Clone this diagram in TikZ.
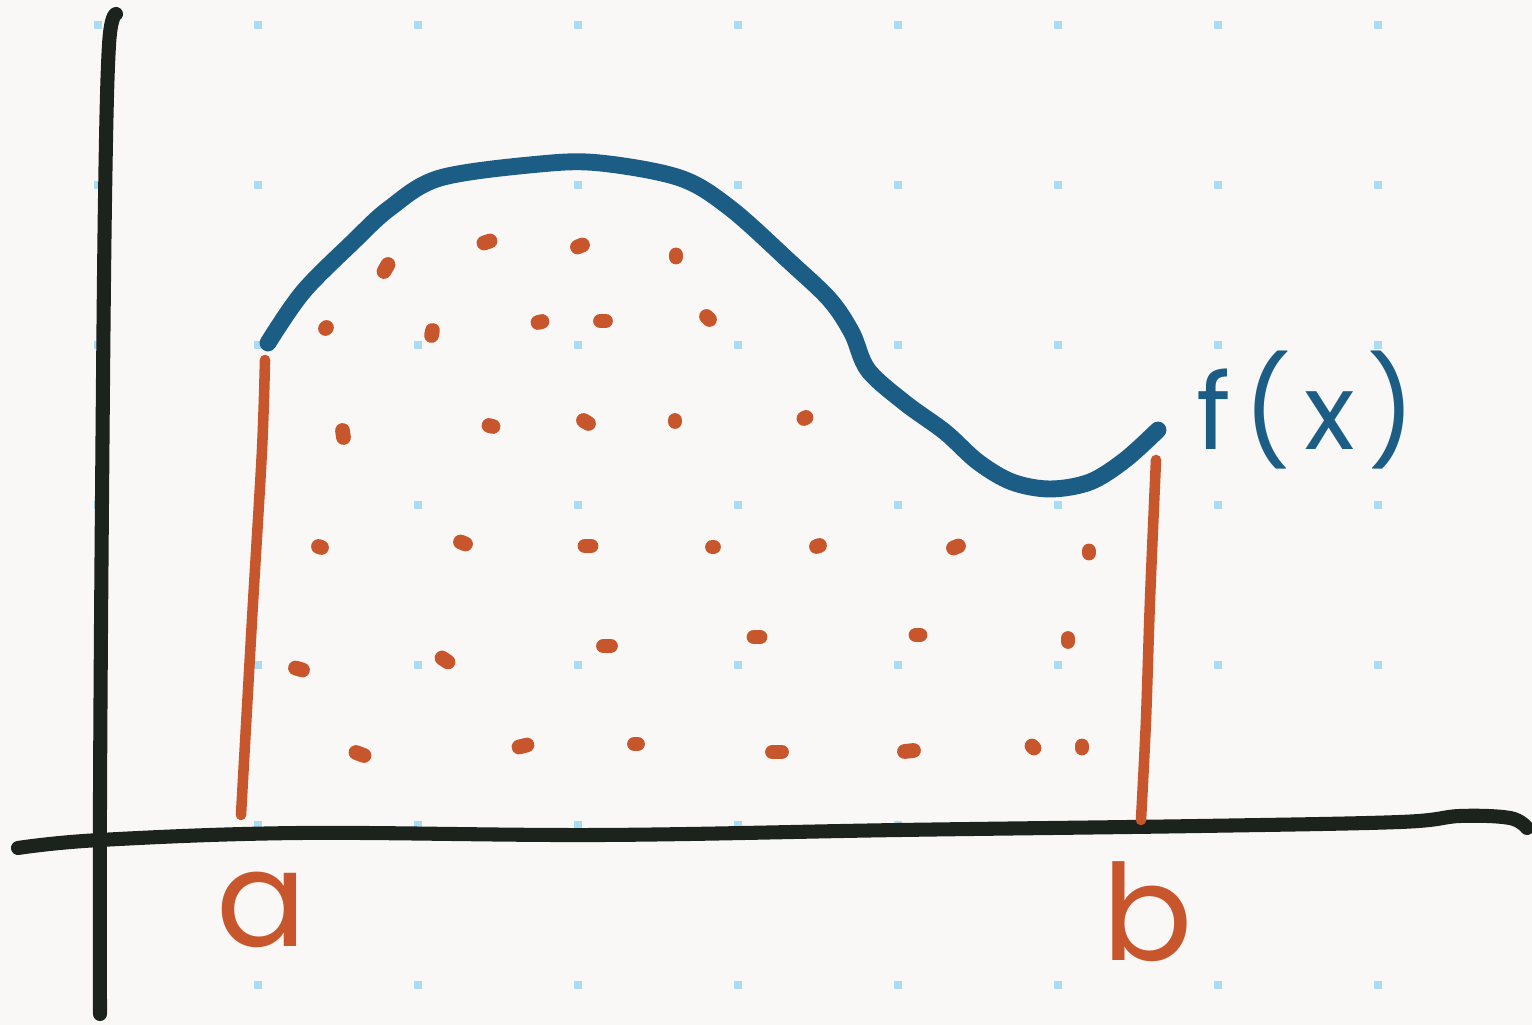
\documentclass[tikz,border=0pt]{standalone}
\usepackage{xcolor}
\usepackage{fontspec}
\setmainfont{Poppins}
\usepackage{tikz}
\usetikzlibrary{positioning, calc}

\definecolor{paper}{HTML}{F9F8F6}
\definecolor{ink}{HTML}{1C221C}
\definecolor{curveblue}{HTML}{1B5D85}
\definecolor{rust}{HTML}{C8562C}
\definecolor{gridblue}{HTML}{A9DDF4}

\begin{document}
\begin{tikzpicture}[
  x=0.01cm, y=-0.01cm,
  axis/.style   = {draw=ink, line width=4pt, line cap=round, line join=round},
  fcurve/.style = {draw=curveblue, line width=4.8pt, line cap=round, line join=round},
  bound/.style  = {draw=rust, line width=3pt, line cap=round},
  speck/.style  = {draw=rust, line width=4.2pt, line cap=round},
  gdot/.style   = {fill=gridblue},
  lbl/.style    = {font=\fontsize{38}{40}\selectfont, inner sep=0pt}
]
  % paper and grid
  \fill[paper] (0,0) rectangle (1532,1025);
  \useasboundingbox (0,0) rectangle (1532,1025);
  \foreach \gx in {98,258,...,1378}
    \foreach \gy in {25,185,...,985}
      \fill[gdot] (\gx-4,\gy-4) rectangle (\gx+4,\gy+4);

  % axes
  \draw[axis] plot[smooth, tension=0.6] coordinates
    {(116,14) (109,45) (105,200) (102,500) (100,800) (100,1014)};
  \draw[axis] plot[smooth, tension=0.6] coordinates
    {(18,848) (100,840) (300,833) (600,835) (900,830) (1200,826) (1400,822) (1460,816) (1510,818) (1527,828)};

  % f(x)
  \coordinate (fa) at (268,343);
  \coordinate (fb) at (1158,430);
  \draw[fcurve] plot[smooth, tension=0.55] coordinates
    {(fa) (303,292) (353,242) (390,208) (440,178) (540,164) (600,163)
     (680,178) (730,208) (790,262) (830,300) (852,333) (868,370)
     (905,403) (945,432) (978,462) (1012,482) (1050,489) (1090,482) (1125,460) (fb)};

  % bounds
  \coordinate (a0) at (241,815);
  \coordinate (b0) at (1141,820);
  \draw[bound] plot[smooth] coordinates {(265,360) (262,450) (252,620) (a0)};
  \draw[bound] plot[smooth] coordinates {(1156,460) (1150,600) (1146,720) (b0)};

  % area specks
  \foreach \sx/\sy/\dx/\dy in {
      386/268/4/-7, 487/242/6/-2, 580/246/5/-2, 676/256/0/-2,
      326/328/1/-1, 432/333/1/-5, 540/322/4/-1, 603/321/5/0, 708/318/3/3,
      343/434/1/7, 491/426/4/1, 586/422/5/3, 675/421/0/1, 805/418/2/-1,
      320/547/3/1, 463/543/5/2, 588/546/6/0, 713/547/1/0, 818/546/3/-1, 956/547/5/-2, 1089/552/0/-2,
      299/669/7/2, 445/660/6/4, 607/646/7/0, 757/637/6/0, 918/635/4/0, 1068/640/0/-3,
      360/754/8/3, 523/746/8/-2, 636/744/3/0, 777/752/9/0, 909/751/9/-1, 1033/747/2/2, 1082/747/0/-2}
    \draw[speck] (\sx-\dx/2,\sy-\dy/2) -- ++(\dx,\dy);

  % labels
  \node[lbl, text=rust, anchor=south] (la) at (262,948) {a};
  \node[lbl, text=rust, anchor=south] (lb) at (1148,962) {b};
  \node[lbl, text=curveblue, font=\fontsize{30}{32}\selectfont\addfontfeature{LetterSpace=12}, anchor=west] (lf) at (1196,410) {f(x)};
\end{tikzpicture}
\end{document}
